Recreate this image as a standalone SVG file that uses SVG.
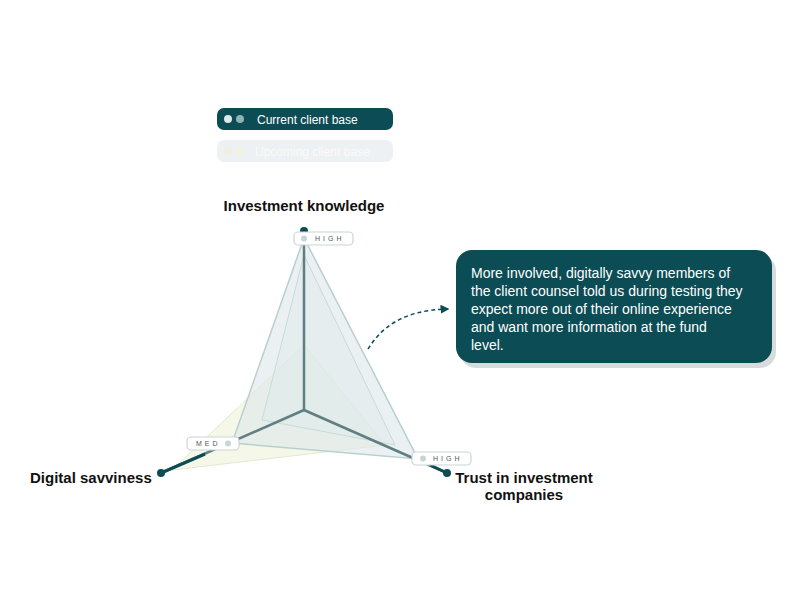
<svg xmlns="http://www.w3.org/2000/svg" width="800" height="600" viewBox="0 0 800 600">
<style>
.t{font-family:"Liberation Sans",Arial,sans-serif}
.h{font-weight:bold;font-size:15px;fill:#111}
.pill{fill:#fff;stroke:#c9d6d6;stroke-width:1.2}
.lv{font-size:7px;letter-spacing:3px;fill:#555}
.ax{stroke:#5f7f80;stroke-width:2.5}
</style>
<defs><marker id="ar" markerWidth="6" markerHeight="6" refX="5" refY="3" orient="auto"><path d="M0,0L6,3L0,6z" fill="#0c4c55"/></marker></defs>
<rect width="800" height="600" fill="#fff"/>
<g id="legend">
<rect x="217" y="108" width="176" height="22" rx="7" fill="#0c4c55"/>
<circle cx="228" cy="119" r="4" fill="#dfe9e9"/><circle cx="240" cy="119" r="4" fill="#8fb0b5"/>
<text x="257" y="124" class="t" font-size="12" fill="#fff">Current client base</text>
<rect x="217" y="140" width="176" height="22" rx="7" fill="#eef1f3"/>
<circle cx="228" cy="151" r="4" fill="#eef0e4"/><circle cx="240" cy="151" r="4" fill="#f1f3dc"/>
<text x="255" y="156" class="t" font-size="12" fill="#fafafa">Upcoming client base</text>
</g>
<g id="radar">
<polygon points="304,345 172,470 385,445" fill="#eef1d8" fill-opacity="0.6" stroke="#e3e9cf"/>
<polygon points="304,238 232,443 418,459" fill="#dde8ea" fill-opacity="0.6" stroke="#b8cfd0" stroke-width="1.5"/>
<polygon points="304,255 262,420 395,445" fill="#dde8ea" fill-opacity="0.4" stroke="#c9d9da"/>
<line x1="304" y1="410" x2="304" y2="231" class="ax"/>
<line x1="304" y1="410" x2="161" y2="473" class="ax"/>
<line x1="304" y1="410" x2="447" y2="473" class="ax"/>
<line x1="161" y1="473" x2="205" y2="454" stroke="#0c4c55" stroke-width="3"/>
<line x1="447" y1="473" x2="430" y2="465" stroke="#0c4c55" stroke-width="3"/>
<circle cx="304" cy="231" r="4" fill="#0c4c55"/>
<circle cx="161" cy="473" r="4" fill="#0c4c55"/>
<circle cx="447" cy="473" r="4" fill="#0c4c55"/>
</g>
<g id="n-top"><rect x="294" y="232" width="59" height="13" rx="4" class="pill"/><circle cx="304" cy="238.5" r="3" fill="#c5d6d6"/><text x="315" y="241" class="t lv">HIGH</text>
<text x="304" y="211" class="t h" text-anchor="middle">Investment knowledge</text></g>
<g id="n-left"><rect x="187" y="437" width="52" height="13" rx="4" class="pill"/><text x="196" y="446" class="t lv">MED</text><circle cx="228" cy="443.5" r="3" fill="#c5d6d6"/>
<text x="30" y="483" class="t h">Digital savviness</text></g>
<g id="n-right"><rect x="412" y="452" width="59" height="13" rx="4" class="pill"/><circle cx="423" cy="458.5" r="3" fill="#c5d6d6"/><text x="433" y="461" class="t lv">HIGH</text>
<text x="524" y="483" class="t h" text-anchor="middle">Trust in investment</text><text x="524" y="500" class="t h" text-anchor="middle">companies</text></g>
<g id="connectors"><path d="M368,349 C380,330 400,310 448,309" fill="none" stroke="#0c4c55" stroke-width="1.5" stroke-dasharray="4,3" marker-end="url(#ar)"/></g>
<g id="callout">
<rect x="458" y="252" width="316" height="113" rx="16" fill="#8a9a9c" opacity="0.35" transform="translate(2,3)"/>
<rect x="456" y="250" width="316" height="113" rx="16" fill="#0c4c55"/>
<text class="t" font-size="14" fill="#fff"><tspan x="471" y="278">More involved, digitally savvy members of</tspan><tspan x="471" y="296">the client counsel told us during testing they</tspan><tspan x="471" y="314">expect more out of their online experience</tspan><tspan x="471" y="332">and want more information at the fund</tspan><tspan x="471" y="350">level.</tspan></text>
</g>
</svg>
